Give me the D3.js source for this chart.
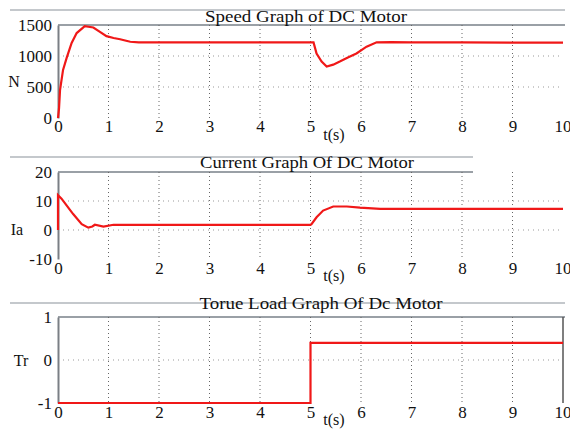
<!DOCTYPE html>
<html lang="en">
<head>
<meta charset="utf-8">
<title>DC Motor Graphs</title>
<script src="https://d3js.org/d3.v7.min.js"></script>
<style>
  body { margin: 0; background: #fff; }
  svg { display: block; font-family: "Liberation Serif", "DejaVu Serif", serif; }
</style>
</head>
<body>
<svg id="chart" width="570" height="432"></svg>
<script>
// speed of the motor, N
var speedT = [0, 0.02, 0.04, 0.1, 0.17, 0.27, 0.37, 0.53, 0.7, 0.83, 0.96, 1.1, 1.23, 1.43, 1.6, 2, 3, 4, 5, 5.06,
              5.12, 5.22, 5.32, 5.45, 5.58, 5.75, 5.91, 6.11, 6.31, 6.6, 7, 8, 9, 10];
var speedN = [0, 150, 450, 775, 965, 1210, 1370, 1480, 1460, 1390, 1320, 1290, 1270, 1230, 1220, 1220, 1220, 1220, 1220, 1220,
              1040, 910, 830, 860, 910, 980, 1040, 1150, 1220, 1225, 1220, 1220, 1215, 1215];

// armature current, Ia
var currT = [0, 0, 0.07, 0.17, 0.3, 0.47, 0.6, 0.68, 0.73, 0.9, 1.1, 1.5, 2, 3, 4, 5, 5.02,
             5.12, 5.25, 5.45, 5.72, 5.98, 6.38, 7, 8, 9, 10];
var currIa = [0, 12, 10.8, 8.5, 5.5, 2, 0.8, 1.2, 1.8, 1.2, 1.8, 1.8, 1.8, 1.8, 1.8, 1.8, 2,
              4.4, 6.7, 8.1, 8.1, 7.7, 7.3, 7.3, 7.3, 7.3, 7.3];

// load torque, Tr
var torqT = [0, 5, 5, 10];
var torqTr = [-1, -1, 0.4, 0.4];

var xTicks = [0, 1, 2, 3, 4, 5, 6, 7, 8, 9, 10];
var speedTicks = [0, 500, 1000, 1500];
var currTicks = [-10, 0, 10, 20];
var torqTicks = [-1, 0, 1];

var svg = d3.select("#chart");
var x = d3.scaleLinear().domain([0, 10]).range([58, 563]);
var fontFam = '"Liberation Serif", "DejaVu Serif", serif';

function panel(o) {
  var y = d3.scaleLinear().domain(o.dom).range([o.bottom, o.top]);
  var g = svg.append("g");

  // header rule + top border
  g.append("line").attr("x1", 10).attr("x2", o.ruleEnd).attr("y1", o.rule).attr("y2", o.rule)
    .attr("stroke", "#c4c8cc").attr("stroke-width", 2);
  g.append("line").attr("x1", 58).attr("x2", o.ruleEnd).attr("y1", o.top).attr("y2", o.top)
    .attr("stroke", "#9aa0a6").attr("stroke-width", 2);

  // grid
  g.append("g").selectAll("line").data(xTicks.slice(1, 10)).join("line")
    .attr("x1", d => x(d)).attr("x2", d => x(d)).attr("y1", o.top).attr("y2", o.bottom)
    .attr("stroke", "#666").attr("stroke-dasharray", "1,3");
  g.append("g").selectAll("line").data(o.grid).join("line")
    .attr("x1", 58).attr("x2", 563).attr("y1", d => y(d)).attr("y2", d => y(d))
    .attr("stroke", "#999").attr("stroke-dasharray", "1,4");

  // axes
  var xa = g.append("g").attr("transform", "translate(0," + o.bottom + ")")
    .call(d3.axisBottom(x).tickValues(xTicks).tickSize(0).tickPadding(o.xPad).tickFormat(d => String(d)))
    .attr("font-family", fontFam).attr("font-size", 17);
  xa.select(".domain").attr("stroke", "none");
  xa.selectAll(".tick text").filter(d => d === 10).attr("text-anchor", "end").attr("dx", 8);
  var ya = g.append("g").attr("transform", "translate(58,0)")
    .call(d3.axisLeft(y).tickValues(o.ticks).tickSize(0).tickPadding(6).tickFormat(d => String(d)))
    .attr("font-family", fontFam).attr("font-size", 17);
  ya.select(".domain").attr("stroke", "#7a7f85").attr("stroke-width", 2);
  g.selectAll(".tick text").attr("fill", "#111");
  if (o.right) {
    g.append("line").attr("x1", 563).attr("x2", 563).attr("y1", o.top).attr("y2", o.bottom)
      .attr("stroke", "#555").attr("stroke-width", 1.5);
  }

  // data line
  var line = d3.line().x(d => x(d[0])).y(d => y(d[1]));
  g.append("path").datum(o.t.map((t, i) => [t, o.v[i]]))
    .attr("d", line).attr("fill", "none").attr("stroke", "#f01818").attr("stroke-width", 2.2);

  g.append("text").attr("x", o.titleX).attr("y", o.titleY).attr("text-anchor", "middle")
    .attr("font-size", 16).attr("textLength", o.titleW).attr("lengthAdjust", "spacingAndGlyphs")
    .attr("fill", "#111").text(o.title);
  g.append("text").attr("x", 334).attr("y", o.bottom + 22).attr("text-anchor", "middle")
    .attr("font-size", 16).attr("fill", "#111").text("t(s)");
  g.append("text").attr("x", o.labX).attr("y", y(o.labV) + 6).attr("text-anchor", "middle")
    .attr("font-size", 16).attr("fill", "#111").text(o.label);
}

panel({ dom: [0, 1500], top: 25, bottom: 118, rule: 10, ruleEnd: 565, ticks: speedTicks, grid: [500, 1000],
  t: speedT, v: speedN, title: "Speed Graph of DC Motor", titleX: 306, titleY: 22, titleW: 202,
  label: "N", labX: 14, labV: 600, xPad: 2, right: false });

panel({ dom: [-10, 20], top: 172, bottom: 259, rule: 157, ruleEnd: 473, ticks: currTicks, grid: [0, 10],
  t: currT, v: currIa, title: "Current Graph Of DC Motor", titleX: 307, titleY: 168, titleW: 214,
  label: "Ia", labX: 17, labV: 0.5, xPad: 3, right: false });

panel({ dom: [-1, 1], top: 317, bottom: 403, rule: 303, ruleEnd: 565, ticks: torqTicks, grid: [0],
  t: torqT, v: torqTr, title: "Torue Load Graph Of Dc Motor", titleX: 321, titleY: 309, titleW: 243,
  label: "Tr", labX: 21, labV: 0, xPad: 3, right: true });
</script>
</body>
</html>
